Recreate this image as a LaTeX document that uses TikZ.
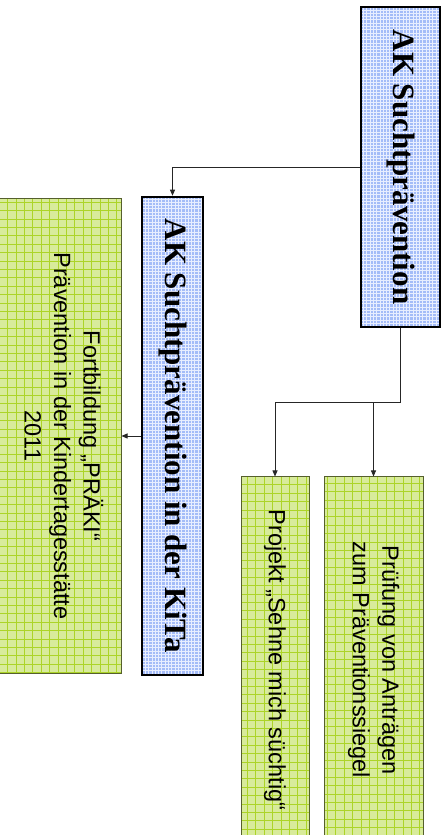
\documentclass[tikz,border=0pt]{standalone}
\usepackage{fontspec}
\setmainfont{Liberation Sans}
\newfontfamily\tnr{Liberation Serif}
\usetikzlibrary{arrows.meta}
\definecolor{akfill}{RGB}{164,188,248}
\definecolor{akgrid}{RGB}{232,238,255}
\definecolor{taskfill}{RGB}{216,235,155}
\definecolor{taskgrid}{RGB}{172,212,40}
\definecolor{taskdraw}{RGB}{85,95,45}

\begin{document}
\begin{tikzpicture}[x=1pt,y=1pt]
	\tikzstyle{akbox} = [draw=black,line width=2.5pt,fill=akfill,inner sep=0pt,font=\tnr\bfseries\fontsize{31}{36}\selectfont,path picture={\draw[akgrid,line width=0.6pt] (path picture bounding box.south west) grid[step=3.3] (path picture bounding box.north east);}];
	\tikzstyle{taskbox} = [draw=taskdraw,line width=1pt,fill=taskfill,inner sep=0pt,font=\fontsize{23.5}{29.5}\selectfont,path picture={\draw[taskgrid,line width=0.5pt] (path picture bounding box.south west) grid[step=8.4] (path picture bounding box.north east);}];
	\tikzstyle{arr} = [draw=black!85,line width=0.8pt,-{Triangle[length=6pt,width=5pt]}];
	\tikzstyle{ln} = [draw=black!85,line width=0.8pt];
	\useasboundingbox (0,0) rectangle (446,835);
	\node (top) at (400.5,668) [akbox,minimum width=79,minimum height=320] {\rotatebox{-90}{AK Suchtprävention}};
	\node (kita) at (172.5,399) [akbox,minimum width=61,minimum height=478] {\rotatebox{-90}{AK Suchtprävention in der KiTa}};
	\node (fortbildung) at (60,399) [taskbox,minimum width=122,minimum height=475] {\rotatebox{-90}{\begin{tabular}{@{}c@{}}Fortbildung „PRÄKI“\\Prävention in der Kindertagesstätte\\2011\end{tabular}}};
	\node (projekt) at (275,175) [taskbox,minimum width=68,minimum height=366] {\rotatebox{-90}{Projekt „Sehne mich süchtig“}};
	\node (pruefung) at (373.5,175) [taskbox,minimum width=99,minimum height=366] {\rotatebox{-90}{\begin{tabular}{@{}c@{}}Prüfung von Anträgen\\zum Präventionssiegel\end{tabular}}};
	\coordinate (split) at (400.5,433);
	\draw [arr] (top.west) -| (kita.north);
	\draw [ln] (top.south) -- (split);
	\draw [arr] (split) -| (pruefung.north);
	\draw [arr] (split) -| (projekt.north);
	\draw [arr] (kita.west) -- (fortbildung.east);
\end{tikzpicture}
\end{document}
